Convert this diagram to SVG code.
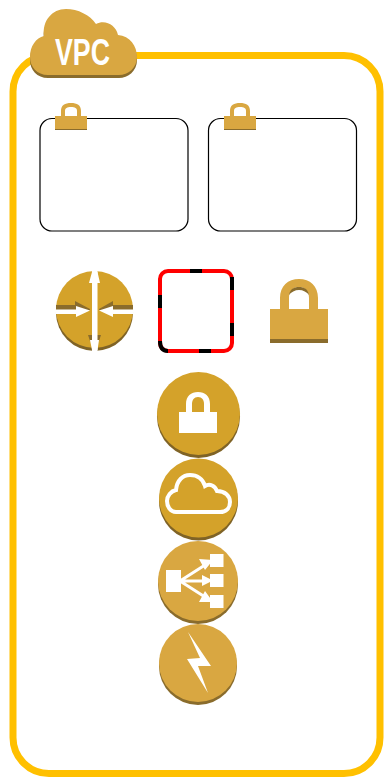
<svg xmlns="http://www.w3.org/2000/svg" width="384" height="777" viewBox="0 0 384 777">
<style>
.g{fill:#d9a741}.o{fill:#d4a22a}.d{fill:#8a6c2c}.dk{fill:#7f6326}.w{fill:#fff}
.box{fill:#fff;stroke:#000;stroke-width:1.2}
.blk{fill:none;stroke:#000;stroke-width:4}
text{font-family:"Liberation Sans",Arial,sans-serif;fill:#fff;font-weight:bold}
</style>
<defs>
<path id="cloud" d="M48 75C37 75 30 67 30 57C30 46 36 38 44 36C42 21 52 9 66 9C78 9 90 15 96 24C105 19 116 25 118 35C130 36 137 46 137 57C137 68 128 75 119 75Z"/>
<g id="smalllock">
<path class="g" d="M6 13V8C6 2 10 0 16 0S26 2 26 8V13H22V8C22 5 20 4 16 4S10 5 10 8V13Z"/>
<rect class="g" x="0" y="13" width="32" height="13"/>
<rect class="d" x="0" y="26" width="32" height="1"/>
</g>
</defs>
<rect x="13" y="55.500" width="367" height="718" rx="36" fill="#fff" stroke="#ffc000" stroke-width="7"/>
<g id="vpc-badge">
<use href="#cloud" class="d" y="3"/>
<use href="#cloud" class="g"/>
<text x="55" y="65" font-size="37" textLength="55" lengthAdjust="spacingAndGlyphs">VPC</text>
</g>
<g id="subnet-1">
<rect class="box" x="40" y="118.500" width="148" height="112.500" rx="12"/>
<use href="#smalllock" x="55" y="103"/>
</g>
<g id="subnet-2">
<rect class="box" x="208.500" y="118.500" width="148" height="112.500" rx="12"/>
<use href="#smalllock" x="224" y="103"/>
</g>
<g id="router">
<circle class="dk" cx="94.500" cy="312.500" r="38.500"/>
<circle class="o" cx="94.500" cy="309.500" r="38.500"/>
<path class="d" d="M56 305H75V301L90 309V310H56ZM133 305H113V301L99 309V310H133ZM88 335H101L99 341H90Z"/>
<path class="w" d="M56 309.500H76V306L90 310.500L76 317V314H56V309.500ZM133 309.500H113V306L99 310.500L113 317V314H133Z"/>
<rect class="w" x="92" y="269" width="5.500" height="86"/>
<path class="w" d="M92 272H97.500L100 283H89ZM90 340H99L97.500 350H92Z"/>
</g>
<g id="nat-box">
<rect x="160" y="271" width="72" height="80" rx="8" fill="#fff" stroke="#f00" stroke-width="4"/>
<path class="blk" d="M190 271H202M232 277V290M232 323V336M211 351H199M160 308V295M166 351H168C163 351 160 348 160 341"/>
</g>
<g id="lock-big">
<path class="g" d="M280 309V298C280 286 288 279 299 279S318 286 318 298V309H309V298C309 291 305 287 299 287S289 291 289 298V309Z"/>
<path class="d" d="M289 295C290 289 294 287 299 287S308 289 309 295C307 292 303 290 299 290S291 292 289 295Z"/>
<rect class="g" x="270" y="309" width="58" height="30"/>
<rect class="d" x="270" y="339" width="58" height="4"/>
</g>
<g id="vpn-gateway">
<circle class="dk" cx="198.500" cy="416.500" r="41.500"/>
<circle class="o" cx="198.500" cy="413.500" r="41.500"/>
<rect class="w" x="179" y="412" width="38" height="21"/>
<path class="w" d="M186 412V404C186 396 191 392 198 392S210 396 210 404V412H204V404C204 400 202 397 198 397S192 400 192 404V412Z"/>
</g>
<g id="internet-gateway">
<circle class="dk" cx="198.500" cy="501" r="39.500"/>
<circle class="o" cx="198.500" cy="498" r="39.500"/>
<path d="M176 512C170 512 167 506 167 501C167 496 171 491 176 490C177 480 183 475 190 475C197 475 203 479 205 486C210 483 215 486 217 491C225 491 230 496 230 502C230 508 226 512 220 512Z" fill="none" stroke="#fff" stroke-width="4"/>
</g>
<g id="load-balancer">
<circle class="d" cx="198" cy="584" r="40"/>
<circle class="g" cx="198" cy="581" r="40"/>
<rect class="w" x="166" y="570" width="15" height="22"/>
<rect class="w" x="210" y="554" width="13.500" height="13"/>
<rect class="w" x="210" y="574" width="13.500" height="13"/>
<rect class="w" x="210" y="595" width="13.500" height="13"/>
<path d="M180 581L205 565M180 581H205M180 581L205 597" stroke="#fff" stroke-width="3" fill="none"/>
<path class="w" d="M213 560L199 559L205 570ZM213 580.500L202 575V586ZM213 602L205 591L199 602Z"/>
</g>
<g id="lambda">
<circle class="d" cx="198" cy="666" r="39"/>
<circle class="g" cx="198" cy="663" r="39"/>
<path class="w" d="M188 632L211 666L198 666L208 693L187 659L200 658Z"/>
</g>
</svg>
